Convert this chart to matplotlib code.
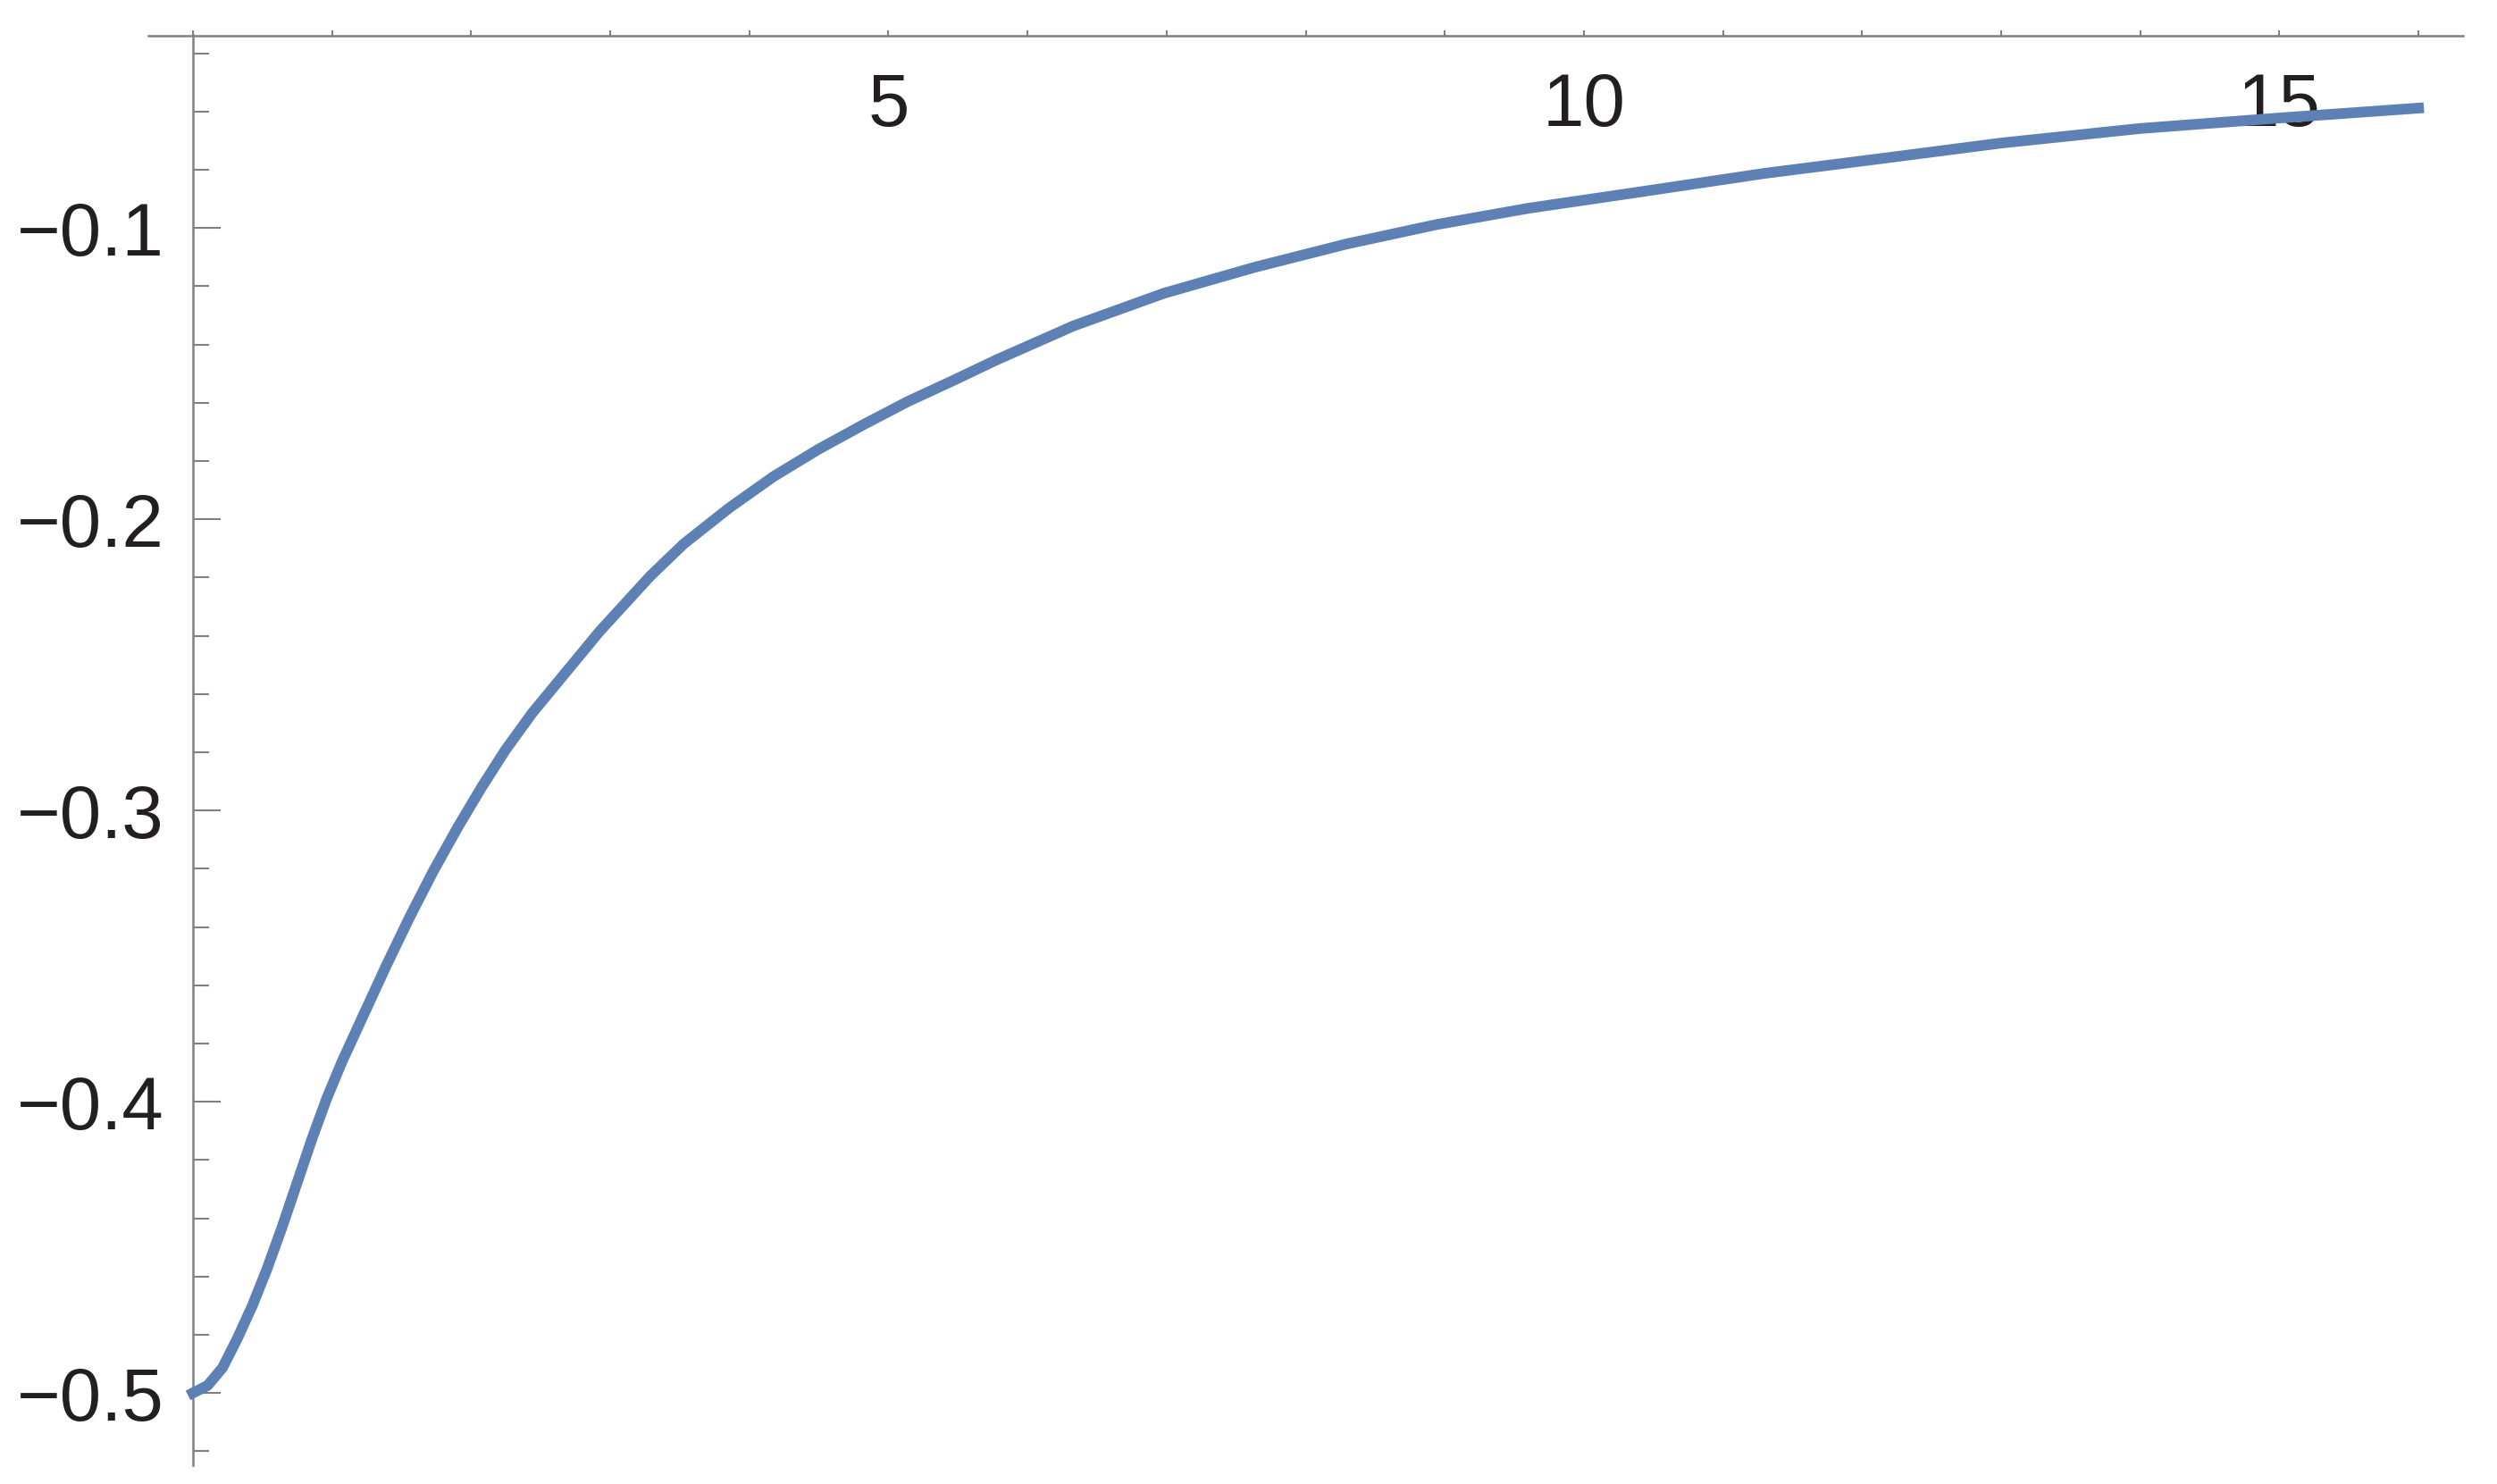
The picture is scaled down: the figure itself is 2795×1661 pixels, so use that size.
import numpy as np
import matplotlib
matplotlib.use("Agg")
import matplotlib.pyplot as plt
from matplotlib.ticker import FixedLocator, NullFormatter

# ---- data ----
x_vals = [0.000, 0.107, 0.214, 0.321, 0.428, 0.535, 0.642, 0.749, 0.856, 0.963,
          1.070, 1.224, 1.391, 1.563, 1.732, 1.905, 2.076, 2.246, 2.440, 2.924,
          3.290, 3.530, 3.853, 4.175, 4.496, 4.817, 5.138, 5.459, 5.780, 6.330,
          6.980, 7.630, 8.290, 8.940, 9.600, 10.400, 11.300, 12.190, 13.000,
          14.000, 15.000, 16.000]
y_vals = [-0.5000, -0.4974, -0.4913, -0.4812, -0.4700, -0.4572, -0.4430, -0.4279,
          -0.4128, -0.3988, -0.3865, -0.3705, -0.3532, -0.3362, -0.3205, -0.3057,
          -0.2920, -0.2793, -0.2665, -0.2385, -0.2194, -0.2084, -0.1962, -0.1853,
          -0.1760, -0.1676, -0.1596, -0.1525, -0.1452, -0.1336, -0.1224, -0.1135,
          -0.1055, -0.0988, -0.0932, -0.0876, -0.0812, -0.0758, -0.0708, -0.0658,
          -0.0622, -0.0588]

x_major = [5, 10, 15]
x_major_labels = ["5", "10", "15"]
x_minor = list(range(0, 17))
y_major = [-0.5, -0.4, -0.3, -0.2, -0.1]
y_major_labels = ["\u22120.5", "\u22120.4", "\u22120.3", "\u22120.2", "\u22120.1"]
y_minor = [round(-0.52 + 0.02 * i, 2) for i in range(25)]

line_color = "#5E81B5"
axis_color = "#808080"
label_color = "#231f20"

W, H = 2795, 1661
fig = plt.figure(figsize=(W / 100, H / 100), dpi=100)
left_px, right_px = 166, 2757
top_px, bottom_px = 39.5, 1640
ax = fig.add_axes([left_px / W, 1 - bottom_px / H,
                   (right_px - left_px) / W, (bottom_px - top_px) / H])

ax.plot(x_vals, y_vals, color=line_color, lw=8.6, solid_capstyle="projecting",
        solid_joinstyle="round", clip_on=False, zorder=3)

ax.set_xlim(-0.32, 16.32)
ax.set_ylim(-0.5248, -0.0338)

for s in ["top", "right"]:
    ax.spines[s].set_visible(False)
ax.spines["left"].set_position(("data", 0))
ax.spines["bottom"].set_position(("axes", 1.0))
for s in ["left", "bottom"]:
    ax.spines[s].set_color(axis_color)
    ax.spines[s].set_linewidth(1.8)

ax.xaxis.set_major_locator(FixedLocator(x_major))
ax.set_xticklabels(x_major_labels)
ax.xaxis.set_minor_locator(FixedLocator(x_minor))
ax.xaxis.set_minor_formatter(NullFormatter())

ax.yaxis.set_major_locator(FixedLocator(y_major))
ax.set_yticklabels(y_major_labels)
ax.yaxis.set_minor_locator(FixedLocator(y_minor))
ax.yaxis.set_minor_formatter(NullFormatter())

font_family = ["Liberation Sans", "DejaVu Sans"]
for lbl in ax.get_xticklabels() + ax.get_yticklabels():
    lbl.set_fontfamily(font_family)
    lbl.set_fontsize(60)
    lbl.set_color(label_color)

ax.tick_params(axis="x", which="both", direction="in", color=axis_color,
               width=1.5, pad=29, length=4)
ax.tick_params(axis="y", which="both", direction="in", color=axis_color,
               width=1.5, pad=23)
ax.tick_params(axis="y", which="major", length=22)
ax.tick_params(axis="y", which="minor", length=13)

ax.patch.set_visible(False)
fig.savefig("out.png", dpi=100, facecolor="white")
